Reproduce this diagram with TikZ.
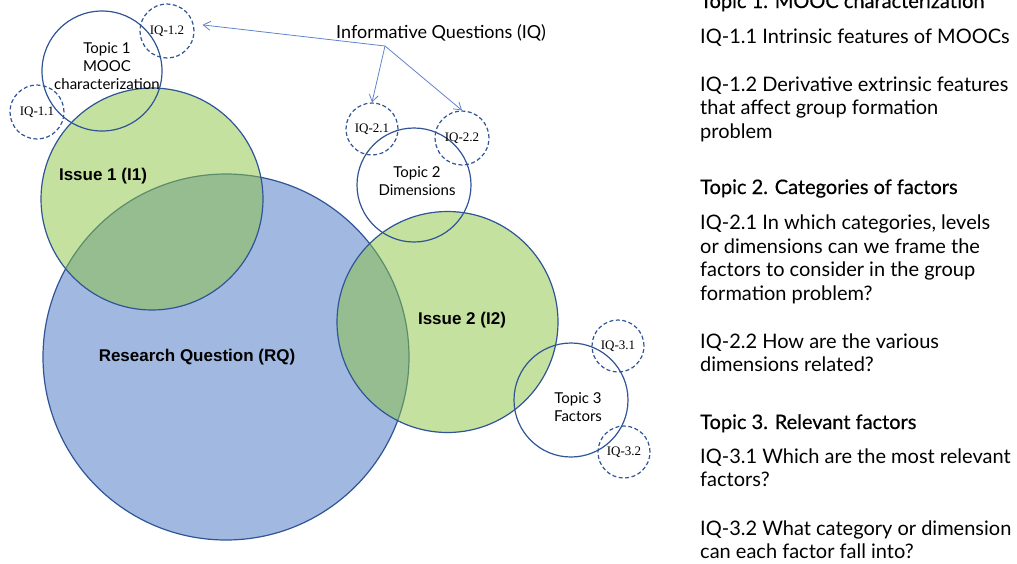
\documentclass[tikz,border=0pt]{standalone}
\usepackage{fontspec}
\setmainfont{Lato}
\newfontfamily\headfont{Lato}[FakeBold=0.5]
\newfontfamily\issuefont{Liberation Sans}
\newfontfamily\iqfont{Liberation Serif}
\usetikzlibrary{arrows.meta}
\definecolor{edge}{RGB}{47,85,151}
\definecolor{rqblue}{RGB}{68,114,196}
\definecolor{issuegreen}{RGB}{139,195,65}
\definecolor{arrowblue}{RGB}{95,132,205}
\begin{document}
\begin{tikzpicture}[x=1pt,y=-1pt,
  ring/.style={circle, draw=edge, line width=1.2pt, inner sep=0pt, minimum size=#1},
  iqring/.style={ring=#1, dash pattern=on 4pt off 2.5pt, font=\iqfont\fontsize{13}{14}\selectfont},
  topictext/.style={align=center, font=\fontsize{15}{18}\selectfont},
  issuetext/.style={font=\issuefont\bfseries\fontsize{17}{20}\selectfont},
  side/.style={anchor=base west, inner sep=0pt, font=\fontsize{20}{24}\selectfont},
  sidehead/.style={side, font=\headfont\fontsize{20}{24}\selectfont},
  iqarrow/.style={draw=arrowblue, line width=0.8pt, -{Straight Barb[length=7pt,width=9pt]}}]
\useasboundingbox (0,0) rectangle (1017,563);

% research question and the two issues
\node[ring=366pt, fill=rqblue, fill opacity=0.5] (rq) at (226,357) {};
\node[ring=222pt, fill=issuegreen, fill opacity=0.5] (i1) at (152,199) {};
\node[ring=221pt, fill=issuegreen, fill opacity=0.5] (i2) at (447.5,322) {};
\node[issuetext] (rqlabel) at (197,357) {Research Question (RQ)};
\node[issuetext] (i1label) at (103,176) {Issue 1 (I1)};
\node[issuetext] (i2label) at (462,320) {Issue 2 (I2)};

% topics
\node[ring=120pt] (t1) at (102,71) {};
\node[ring=114pt] (t2) at (414,185) {};
\node[ring=114pt] (t3) at (571,400) {};
\node[topictext] (t1label) at (107,66) {Topic 1\\MOOC\\characterization};
\node[topictext] (t2label) at (417,181) {Topic 2\\Dimensions};
\node[topictext] (t3label) at (578,407) {Topic 3\\Factors};

% informative questions
\node[iqring=54pt] (q11) at (37,112) {IQ-1.1};
\node[iqring=54pt] (q12) at (167,31) {IQ-1.2};
\node[iqring=52pt] (q21) at (372,129) {IQ-2.1};
\node[iqring=54pt] (q22) at (462,138) {IQ-2.2};
\node[iqring=52pt] (q31) at (618,346) {IQ-3.1};
\node[iqring=52pt] (q32) at (624,452) {IQ-3.2};

\node[font=\fontsize{18}{21}\selectfont] (iqtitle) at (441,33) {Informative Questions (IQ)};
\coordinate (iq) at (385,46);
\draw[iqarrow, shorten >=9pt] (iq) -- (q12.15);
\draw[iqarrow] (iq) -- (q21.north);
\draw[iqarrow] (iq) -- (q22.north);

% descriptions on the right
\node[sidehead] (h1) at (700,8) {Topic 1. MOOC characterization};
\node[side] (a1) at (700,43) {IQ-1.1 Intrinsic features of MOOCs};
\node[side] (a2) at (700,91) {IQ-1.2 Derivative extrinsic features};
\node[side] (a3) at (700,114.5) {that affect group formation};
\node[side] (a4) at (700,138) {problem};
\node[sidehead] (h2) at (700,194) {Topic 2. Categories of factors};
\node[side] (b1) at (700,229.5) {IQ-2.1 In which categories, levels};
\node[side] (b2) at (700,253) {or dimensions can we frame the};
\node[side] (b3) at (700,276.5) {factors to consider in the group};
\node[side] (b4) at (700,300) {formation problem?};
\node[side] (b5) at (700,348) {IQ-2.2 How are the various};
\node[side] (b6) at (700,371.5) {dimensions related?};
\node[sidehead] (h3) at (700,429) {Topic 3. Relevant factors};
\node[side] (c1) at (700,463) {IQ-3.1 Which are the most relevant};
\node[side] (c2) at (700,486.5) {factors?};
\node[side] (c3) at (700,535) {IQ-3.2 What category or dimension};
\node[side] (c4) at (700,558.5) {can each factor fall into?};
\end{tikzpicture}
\end{document}
